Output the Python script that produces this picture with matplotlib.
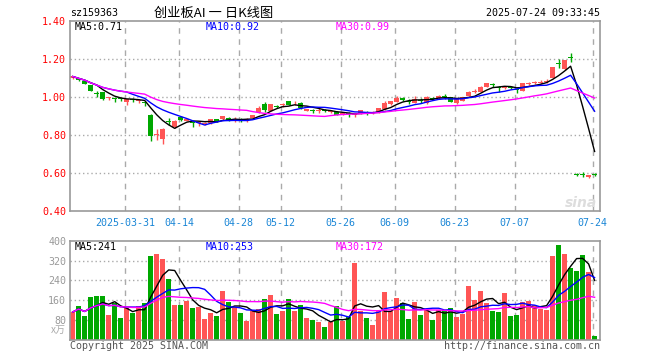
import matplotlib
matplotlib.use('Agg')
import matplotlib.pyplot as plt
import numpy as np
import pandas as pd

# ---------------- data ----------------
opens = [1.098, 1.098, 1.086, 1.063, 1.018, 1.025, 0.993, 0.990, 0.990, 0.972,
         0.987, 0.979, 0.972, 0.905, 0.800, 0.779, 0.872, 0.840, 0.896, 0.876,
         0.868, 0.862, 0.860, 0.862, 0.882, 0.883, 0.892, 0.880, 0.886, 0.878,
         0.888, 0.919, 0.962, 0.928, 0.952, 0.956, 0.979, 0.966, 0.970, 0.926,
         0.930, 0.926, 0.930, 0.922, 0.923, 0.910, 0.912, 0.905, 0.914, 0.918,
         0.916, 0.919, 0.935, 0.962, 0.975, 0.995, 0.978, 0.970, 0.984, 0.967,
         0.995, 0.993, 1.003, 0.998, 0.967, 0.980, 1.005, 1.028, 1.028, 1.054,
         1.066, 1.050, 1.046, 1.050, 1.042, 1.032, 1.070, 1.073, 1.076, 1.080,
         1.102, 1.176, 1.146, 1.210, 0.593, 0.594, 0.577, 0.594]
closes = [1.108, 1.088, 1.070, 1.033, 1.015, 0.990, 0.996, 0.988, 0.988, 0.988,
          0.984, 0.981, 0.968, 0.795, 0.805, 0.832, 0.868, 0.875, 0.879, 0.882,
          0.864, 0.864, 0.862, 0.884, 0.872, 0.900, 0.878, 0.883, 0.874, 0.880,
          0.905, 0.944, 0.932, 0.963, 0.948, 0.958, 0.958, 0.968, 0.940, 0.937,
          0.927, 0.928, 0.928, 0.924, 0.905, 0.912, 0.909, 0.907, 0.932, 0.915,
          0.918, 0.940, 0.970, 0.979, 0.996, 0.982, 0.975, 0.990, 0.981, 1.002,
          0.992, 1.007, 1.000, 0.975, 0.988, 0.998, 1.028, 1.030, 1.054, 1.072,
          1.062, 1.046, 1.048, 1.047, 1.038, 1.072, 1.072, 1.075, 1.078, 1.082,
          1.156, 1.172, 1.195, 1.205, 0.590, 0.591, 0.589, 0.592]
highs = [1.112, 1.100, 1.088, 1.065, 1.033, 1.028, 1.000, 0.998, 0.996, 0.990,
         0.993, 0.988, 0.979, 0.910, 0.832, 0.835, 0.888, 0.877, 0.898, 0.886,
         0.874, 0.870, 0.867, 0.886, 0.884, 0.902, 0.894, 0.893, 0.888, 0.888,
         0.907, 0.950, 0.975, 0.965, 0.960, 0.967, 0.981, 0.979, 0.972, 0.939,
         0.937, 0.944, 0.937, 0.933, 0.925, 0.919, 0.919, 0.914, 0.934, 0.927,
         0.924, 0.942, 0.980, 0.981, 1.007, 1.000, 0.988, 1.007, 0.993, 1.004,
         1.002, 1.009, 1.014, 1.000, 0.990, 1.000, 1.030, 1.040, 1.060, 1.074,
         1.072, 1.058, 1.054, 1.057, 1.049, 1.074, 1.080, 1.084, 1.089, 1.093,
         1.158, 1.198, 1.197, 1.230, 0.598, 0.604, 0.591, 0.598]
lows = [1.095, 1.085, 1.066, 1.030, 1.000, 0.985, 0.986, 0.976, 0.980, 0.958,
        0.975, 0.970, 0.950, 0.770, 0.774, 0.751, 0.853, 0.838, 0.876, 0.872,
        0.840, 0.845, 0.850, 0.860, 0.868, 0.881, 0.872, 0.870, 0.870, 0.866,
        0.886, 0.917, 0.919, 0.926, 0.940, 0.949, 0.956, 0.958, 0.938, 0.924,
        0.917, 0.917, 0.923, 0.915, 0.903, 0.905, 0.896, 0.896, 0.912, 0.905,
        0.912, 0.917, 0.933, 0.960, 0.973, 0.978, 0.962, 0.968, 0.967, 0.965,
        0.984, 0.991, 0.988, 0.973, 0.965, 0.978, 1.003, 1.020, 1.026, 1.052,
        1.054, 1.028, 1.040, 1.040, 1.020, 1.030, 1.063, 1.067, 1.068, 1.072,
        1.100, 1.151, 1.144, 1.186, 0.584, 0.580, 0.575, 0.586]
volumes = [113, 136, 96, 172, 176, 176, 100, 148, 88, 128,
           108, 136, 151, 340, 348, 328, 244, 140, 140, 157,
           128, 132, 84, 108, 96, 196, 153, 132, 108, 76,
           116, 124, 164, 180, 104, 116, 164, 116, 140, 88,
           80, 72, 52, 72, 136, 76, 92, 309, 116, 88,
           60, 120, 192, 116, 168, 148, 84, 152, 100, 120,
           80, 120, 120, 128, 92, 104, 216, 160, 196, 148,
           116, 112, 188, 96, 100, 152, 156, 140, 124, 120,
           340, 384, 348, 292, 276, 344, 272, 16]
tick_idx = [9, 18, 28, 35, 45, 54, 64, 74, 87]
tick_labels = ['2025-03-31', '04-14', '04-28', '05-12', '05-26', '06-09',
               '06-23', '07-07', '07-24']
price_ticks = [0.40, 0.60, 0.80, 1.00, 1.20, 1.40]
vol_ticks = [80, 160, 240, 320, 400]
price_ma_text = ['MA5:0.71', 'MA10:0.92', 'MA30:0.99']
vol_ma_text = ['MA5:241', 'MA10:253', 'MA30:172']

# ---------------- styling ----------------
RED = '#FF5555'
GREEN = '#00A800'
GRID = '#AAAAAA'
SPINE = '#999999'
DATE_BLUE = '#1A86D6'
MONO = 'DejaVu Sans Mono'
FS = 7.2
MA_COLORS = ['black', '#0000FF', '#FF00FF']

W, H = 660, 360
fig = plt.figure(figsize=(W / 100, H / 100), dpi=100)


def axrect(x0, y0, x1, y1):
    return [x0 / W, 1 - y1 / H, (x1 - x0) / W, (y1 - y0) / H]


def ftext(px, py, s, **kw):
    fig.text(px / W, 1 - py / H, s, **kw)


axp = fig.add_axes(axrect(70.3, 21, 600, 211))
axv = fig.add_axes(axrect(70.3, 240.7, 600, 340))

o = np.array(opens); c = np.array(closes)
h = np.array(highs); l = np.array(lows)
v = np.array(volumes, dtype=float)
n = len(c)
x = np.arange(n)
up = c >= o
colors = np.where(up, RED, GREEN)
grid_x = np.array(tick_idx) - 0.3
XLIM = (-0.4, 87.9)

# ---- price panel ----
for yv in price_ticks[1:-1]:
    axp.axhline(yv, color=GRID, lw=1, ls=(0, (1, 2)), zorder=0)
for gx in grid_x:
    axp.axvline(gx, color=GRID, lw=1, ls=(0, (4, 4)), zorder=0)

axp.vlines(x, l, h, colors=colors, lw=1, zorder=2)
body_bottom = np.minimum(o, c)
body_h = np.maximum(np.abs(c - o), 0.005)
axp.bar(x, body_h, 0.8, bottom=body_bottom, color=colors, linewidth=0, zorder=2)

cs = pd.Series(c)
for win, col in zip([5, 10, 30], MA_COLORS):
    axp.plot(x, cs.rolling(win, min_periods=1).mean(), color=col, lw=1, zorder=3)

axp.set_xlim(*XLIM)
axp.set_ylim(0.40, 1.40)
axp.set_yticks(price_ticks, [f'{t:.2f}' for t in price_ticks])
axp.tick_params(axis='y', length=0, pad=3, labelcolor='#FF0000', labelsize=FS)
axp.set_xticks(grid_x, tick_labels)
axp.tick_params(axis='x', length=0, pad=5, labelcolor=DATE_BLUE, labelsize=FS)
for lab in axp.get_xticklabels() + axp.get_yticklabels():
    lab.set_family(MONO)

# faint watermark at the bottom right of the price panel
ftext(597, 203, 'sina', ha='right', va='center', color='#DDDDDD',
      fontsize=10, style='italic', fontweight='bold')

# ---- volume panel ----
for yv in vol_ticks[:-1]:
    axv.axhline(yv, color=GRID, lw=1, ls=(0, (1, 2)), zorder=0)
for gx in grid_x:
    axv.axvline(gx, color=GRID, lw=1, ls=(0, (4, 4)), zorder=0)
axv.bar(x, v, 0.8, color=colors, linewidth=0, zorder=2)
vs = pd.Series(v)
for win, col in zip([5, 10, 30], MA_COLORS):
    axv.plot(x, vs.rolling(win, min_periods=1).mean(), color=col, lw=1, zorder=3)
axv.set_xlim(*XLIM)
axv.set_ylim(0, 400)
axv.set_xticks([])
axv.set_yticks(vol_ticks, [str(t) for t in vol_ticks])
axv.tick_params(axis='y', length=0, pad=3, labelcolor='#999999', labelsize=FS)
for lab in axv.get_yticklabels():
    lab.set_family(MONO)

for ax in (axp, axv):
    for s in ax.spines.values():
        s.set_color(SPINE)
        s.set_linewidth(1.2)

# ---- texts ----
ma_x = [75, 206, 336]
for px, s, col in zip(ma_x, price_ma_text, MA_COLORS):
    ftext(px, 27, s, color=col, fontsize=FS, family=MONO, va='center', ha='left')
for px, s, col in zip(ma_x, vol_ma_text, MA_COLORS):
    ftext(px, 246.5, s, color=col, fontsize=FS, family=MONO, va='center', ha='left')

ftext(70, 13, 'sz159363', color='black', fontsize=FS, family=MONO, va='center', ha='left')
ftext(214, 13, '创业板AI 一 日K线图', color='black', fontsize=9.5,
      family=['Noto Sans CJK SC', 'DejaVu Sans'], va='center', ha='center')
ftext(600, 13, '2025-07-24 09:33:45', color='black', fontsize=FS, family=MONO,
      va='center', ha='right')
ftext(66, 330, 'x万', color='#AAAAAA', fontsize=FS,
      family=['Noto Sans CJK SC', 'DejaVu Sans'], va='center', ha='right')
ftext(70, 346, 'Copyright 2025 SINA.COM', color='#555555', fontsize=FS,
      family=MONO, va='center', ha='left')
ftext(600, 346, 'http://finance.sina.com.cn', color='#555555', fontsize=FS,
      family=MONO, va='center', ha='right')

fig.savefig('out.png', dpi=100, facecolor='white')
